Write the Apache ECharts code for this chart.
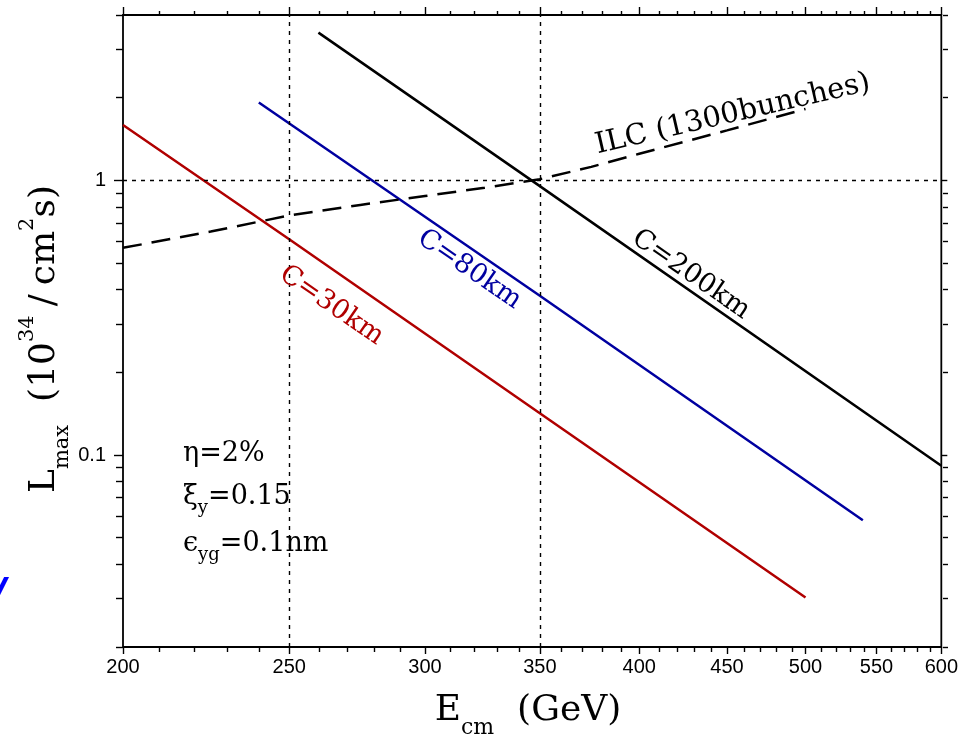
<!DOCTYPE html>
<html><head><meta charset="utf-8">
<script src="https://cdn.jsdelivr.net/npm/echarts@6/dist/echarts.min.js"></script>
<style>html,body{margin:0;padding:0;background:#fff}#c{width:961px;height:737px}</style>
</head><body><div id="c"></div>
<script>
// ---------------- data ----------------
const energyTicks = [200, 250, 300, 350, 400, 450, 500, 550, 600];
const energyTickLabels = ['200', '250', '300', '350', '400', '450', '500', '550', '600'];
const energyMinorTicks = [210, 220, 230, 240, 260, 270, 280, 290, 310, 320, 330, 340, 360, 370, 380, 390,
  410, 420, 430, 440, 460, 470, 480, 490, 510, 520, 530, 540, 560, 570, 580, 590];
const lumTicks = [0.1, 1];
const lumTickLabels = ['0.1', '1'];
const lumMinorTicks = [0.02, 0.03, 0.04, 0.05, 0.06, 0.07, 0.08, 0.09, 0.2, 0.3, 0.4, 0.5, 0.6, 0.7, 0.8, 0.9, 2, 3, 4];
const refEnergies = [250, 350];
const refLums = [1];

const c30Energy = [200, 250, 350, 500];
const c30Lum = [1.59, 0.61, 0.142, 0.0303];
const c80Energy = [240, 350, 540];
const c80Lum = [1.92, 0.38, 0.0579];
const c200Energy = [260, 350, 600];
const c200Lum = [3.45, 0.953, 0.0914];
const ilcEnergy = [200, 225, 250, 275, 300, 325, 350, 375, 400, 450, 500];
const ilcLum = [0.568, 0.651, 0.745, 0.814, 0.877, 0.94, 1.01, 1.12, 1.25, 1.52, 1.82];

const lineLabels = ['C=30km', 'C=80km', 'C=200km', 'ILC (1300bunches)'];

// ---------------- layout / style ----------------
const RED = '#b00000', BLUE = '#0000a0', BLACK = '#000';
const labelLayout = [
  { e: 264.6, l: 0.35, rot: -34.6, color: RED, size: 27 },
  { e: 318.4, l: 0.473, rot: -34.6, color: BLUE, size: 27 },
  { e: 428.7, l: 0.454, rot: -34.7, color: BLACK, size: 27 },
  { e: 453.5, l: 1.74, rot: 13, color: BLACK, size: 29 }
];
const pairs = (xs, ys) => xs.map((x, i) => [x, ys[i]]);
const pickLabel = (vals, labels) => v => {
  const i = vals.findIndex(t => Math.abs(t - v) <= 1e-3 * t);
  return i < 0 ? '' : labels[i];
};
const gridBox = { left: 123, right: 18, top: 15, bottom: 90 };
const tickFont = { color: '#000', fontFamily: 'Liberation Sans', fontSize: 20 };

function xAx(grid, pos, vals, len, showLabel) {
  return {
    type: 'log', logBase: 10, min: 200, max: 600, gridIndex: grid, position: pos,
    axisLine: { show: false }, splitLine: { show: false }, minorTick: { show: false },
    axisTick: { show: true, inside: false, length: len, customValues: vals, lineStyle: { color: '#000', width: 1.4 } },
    axisLabel: showLabel ? Object.assign({ show: true, customValues: vals, margin: 10,
      formatter: pickLabel(energyTicks, energyTickLabels) }, tickFont) : { show: false }
  };
}
function yAx(grid, pos, vals, len, showLabel) {
  return {
    type: 'log', logBase: 10, min: 0.02, max: 4, gridIndex: grid, position: pos,
    axisLine: { show: false }, splitLine: { show: false }, minorTick: { show: false },
    axisTick: { show: true, inside: false, length: len, customValues: vals, lineStyle: { color: '#000', width: 1.4 } },
    axisLabel: showLabel ? Object.assign({ show: true, customValues: vals, margin: 17,
      formatter: pickLabel(lumTicks, lumTickLabels) }, tickFont) : { show: false }
  };
}

const lineSeries = (name, xs, ys, color, type) => ({
  type: 'line', name, data: pairs(xs, ys), xAxisIndex: 0, yAxisIndex: 0,
  symbol: 'none', showSymbol: false, silent: true, z: 3,
  lineStyle: { color, width: 2.5, type: type || 'solid' }
});

const c30 = lineSeries('C=30km', c30Energy, c30Lum, RED);
c30.markLine = {
  silent: true, symbol: 'none', label: { show: false },
  lineStyle: { color: '#000', width: 1.4, type: [4, 5] },
  data: refEnergies.map(e => ({ xAxis: e })).concat(refLums.map(l => ({ yAxis: l })))
};

const option = {
  animation: false,
  backgroundColor: '#fff',
  grid: [
    Object.assign({ show: true, borderColor: '#000', borderWidth: 1.8, backgroundColor: 'transparent' }, gridBox),
    Object.assign({ show: false }, gridBox)
  ],
  xAxis: [
    xAx(0, 'bottom', energyTicks, 7, true),
    xAx(0, 'top', energyTicks, 8, false),
    xAx(1, 'bottom', energyMinorTicks, 5, false),
    xAx(1, 'top', energyMinorTicks, 4, false)
  ],
  yAxis: [
    yAx(0, 'left', lumTicks, 9, true),
    yAx(0, 'right', lumTicks, 6, false),
    yAx(1, 'left', lumMinorTicks, 7, false),
    yAx(1, 'right', lumMinorTicks, 5, false)
  ],
  series: [
    c30,
    lineSeries('C=80km', c80Energy, c80Lum, BLUE),
    lineSeries('C=200km', c200Energy, c200Lum, BLACK),
    lineSeries('ILC (1300bunches)', ilcEnergy, ilcLum, BLACK, [19, 10]),
    {
      type: 'custom', xAxisIndex: 0, yAxisIndex: 0, clip: false, silent: true, z: 5,
      data: labelLayout.map(d => [d.e, d.l]),
      renderItem(params, api) {
        const d = labelLayout[params.dataIndex];
        const p = api.coord([api.value(0), api.value(1)]);
        return {
          type: 'text', x: p[0], y: p[1], rotation: d.rot * Math.PI / 180,
          style: { text: lineLabels[params.dataIndex], fill: d.color,
            font: d.size + 'px "DejaVu Serif"', align: 'center', verticalAlign: 'middle' }
        };
      }
    }
  ],
  graphic: [
    { type: 'text', x: 45, y: 339, rotation: Math.PI / 2, silent: true,
      style: {
        text: '{m|L}{sub|max}{m|  (10}{sup|34}{sl|/}{m|cm}{sup|2}{m|s)}',
        align: 'center', verticalAlign: 'middle', fill: '#000',
        rich: {
          m: { fontFamily: 'DejaVu Serif', fontSize: 36, lineHeight: 56, verticalAlign: 'middle' },
          sl: { fontFamily: 'DejaVu Serif', fontSize: 36, lineHeight: 56, verticalAlign: 'middle', padding: [0, 9, 0, 9] },
          sub: { fontFamily: 'DejaVu Serif', fontSize: 21, lineHeight: 21, verticalAlign: 'bottom' },
          sup: { fontFamily: 'DejaVu Serif', fontSize: 21, lineHeight: 21, verticalAlign: 'top' }
        }
      } },
    { type: 'text', x: 528, y: 711, silent: true,
      style: {
        text: '{m|E}{sub|cm}{m|  (GeV)}',
        align: 'center', verticalAlign: 'middle', fill: '#000',
        rich: {
          m: { fontFamily: 'DejaVu Serif', fontSize: 36, lineHeight: 56, verticalAlign: 'middle' },
          sub: { fontFamily: 'DejaVu Serif', fontSize: 22, lineHeight: 22, verticalAlign: 'bottom' }
        }
      } },
    { type: 'text', x: 183, y: 454, silent: true,
      style: { text: 'η=2%', fill: '#000', font: '27px "DejaVu Serif"', verticalAlign: 'middle' } },
    { type: 'text', x: 183, y: 497, silent: true,
      style: {
        text: '{m|ξ}{sub|y}{m|=0.15}', verticalAlign: 'middle', fill: '#000',
        rich: {
          m: { fontFamily: 'DejaVu Serif', fontSize: 27, lineHeight: 40, verticalAlign: 'middle' },
          sub: { fontFamily: 'DejaVu Serif', fontSize: 18, lineHeight: 18, verticalAlign: 'bottom' }
        }
      } },
    { type: 'text', x: 183, y: 544, silent: true,
      style: {
        text: '{m|ϵ}{sub|yg}{m|=0.1nm}', verticalAlign: 'middle', fill: '#000',
        rich: {
          m: { fontFamily: 'DejaVu Serif', fontSize: 27, lineHeight: 40, verticalAlign: 'middle' },
          sub: { fontFamily: 'DejaVu Serif', fontSize: 18, lineHeight: 18, verticalAlign: 'bottom' }
        }
      } },
    { type: 'text', x: -10, y: 599, silent: true,
      style: { text: '/', fill: '#0000ff', font: 'italic bold 44px "DejaVu Sans"', verticalAlign: 'middle' } }
  ]
};

const chart = echarts.init(document.getElementById('c'), null, { renderer: 'canvas' });
chart.setOption(option);
</script>
</body></html>
